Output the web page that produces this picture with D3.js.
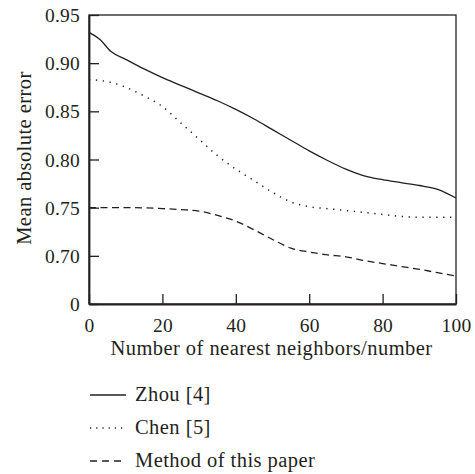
<!DOCTYPE html>
<html>
<head>
<meta charset="utf-8">
<script src="https://cdn.jsdelivr.net/npm/d3@7"></script>
<style>
	body { margin: 0; background: #fff; }
	text { font-family: "Liberation Serif", "Times New Roman", serif; fill: #231f20; }
</style>
</head>
<body>
<div id="chart"></div>
<script>
// number of nearest neighbors (x)
var neighbors = [0, 3, 6, 10, 15, 20, 25, 30, 35, 40, 45, 50, 55, 60, 65, 70, 75, 80, 85, 90, 95, 100];
// mean absolute error per method
var zhou   = [0.932, 0.9245, 0.912, 0.904, 0.894, 0.885, 0.877, 0.869, 0.861, 0.852, 0.842, 0.831, 0.820, 0.809, 0.799, 0.790, 0.783, 0.779, 0.776, 0.773, 0.769, 0.760];
var chen   = [0.883, 0.882, 0.880, 0.875, 0.866, 0.855, 0.838, 0.821, 0.804, 0.790, 0.778, 0.766, 0.756, 0.751, 0.749, 0.747, 0.745, 0.743, 0.741, 0.740, 0.740, 0.740];
var method = [0.750, 0.750, 0.750, 0.750, 0.7498, 0.749, 0.748, 0.7465, 0.742, 0.736, 0.727, 0.717, 0.708, 0.704, 0.701, 0.699, 0.695, 0.692, 0.689, 0.686, 0.6825, 0.679];

var xTicks = [0, 20, 40, 60, 80, 100];
// broken axis: bottom tick (0.65 position) is labelled "0"
var yTicks = [0.65, 0.70, 0.75, 0.80, 0.85, 0.90, 0.95];
var yTickLabels = ['0', '0.70', '0.75', '0.80', '0.85', '0.90', '0.95'];

var seriesNames = ['Zhou [4]', 'Chen [5]', 'Method of this paper'];
var seriesData = [zhou, chen, method];
var seriesDash = [null, '1.3,5.6', '7,4.5'];

var W = 475, H = 474;
var margin = {left: 89, right: 19, top: 15, bottom: 170};
var ink = '#231f20';

var svg = d3.select('#chart').append('svg').attr('width', W).attr('height', H);

var x = d3.scaleLinear().domain([0, 100]).range([margin.left, W - margin.right]);
var y = d3.scaleLinear().domain([0.65, 0.95]).range([H - margin.bottom, margin.top]);

// frame (top and right)
svg.append('rect')
	.attr('x', x(0)).attr('y', y(0.95))
	.attr('width', x(100) - x(0)).attr('height', y(0.65) - y(0.95))
	.attr('fill', 'none').attr('stroke', ink).attr('stroke-width', 1.3);

// x axis, ticks pointing inward
var xAxis = svg.append('g')
	.attr('transform', 'translate(0,' + y(0.65) + ')')
	.call(d3.axisBottom(x).tickValues(xTicks).tickSizeInner(-10).tickSizeOuter(0).tickPadding(9));

// y axis, ticks pointing inward
var yAxis = svg.append('g')
	.attr('transform', 'translate(' + x(0) + ',0)')
	.call(d3.axisLeft(y).tickValues(yTicks).tickSizeInner(-10).tickSizeOuter(0).tickPadding(9)
		.tickFormat(function(d, i) { return yTickLabels[i]; }));

[xAxis, yAxis].forEach(function(g) {
	g.select('.domain').attr('stroke', ink).attr('stroke-width', 1.8);
	g.selectAll('.tick line').attr('stroke', ink).attr('stroke-width', 1.3);
	g.selectAll('.tick text')
		.attr('fill', ink)
		.style('font-family', '"Liberation Serif", serif')
		.style('font-size', '19.5px')
		.style('letter-spacing', '0.2px');
});
xAxis.selectAll('.tick text').attr('dy', '0.95em');
yAxis.selectAll('.tick text').attr('dy', '0.34em');

// axis titles
svg.append('text')
	.attr('x', (x(0) + x(100)) / 2 - 1)
	.attr('y', 355)
	.attr('text-anchor', 'middle')
	.style('font-size', '20.5px')
	.style('letter-spacing', '0.45px')
	.text('Number of nearest neighbors/number');

svg.append('text')
	.attr('transform', 'translate(31,158) rotate(-90)')
	.attr('text-anchor', 'middle')
	.style('font-size', '20.5px')
	.style('letter-spacing', '0.45px')
	.text('Mean absolute error');

// lines
var line = d3.line()
	.x(function(d, i) { return x(neighbors[i]); })
	.y(function(d) { return y(d); })
	.curve(d3.curveMonotoneX);

svg.append('g').selectAll('path')
	.data(seriesData)
	.join('path')
		.attr('d', line)
		.attr('fill', 'none')
		.attr('stroke', ink)
		.attr('stroke-width', function(d, i) { return i === 1 ? 1.5 : 1.3; })
		.attr('stroke-dasharray', function(d, i) { return seriesDash[i]; });

// legend
var legend = svg.append('g').selectAll('g')
	.data(seriesNames)
	.join('g')
		.attr('transform', function(d, i) { return 'translate(90,' + (401 + i * 33) + ')'; });

legend.append('line')
	.attr('x1', 0).attr('x2', 36)
	.attr('y1', -6).attr('y2', -6)
	.attr('stroke', ink)
	.attr('stroke-width', 1.3)
	.attr('stroke-dasharray', function(d, i) { return i === 1 ? '1.2,5' : (i === 2 ? '7,5' : null); });

legend.append('text')
	.attr('x', 45)
	.attr('y', 0)
	.style('font-size', '20.5px')
	.style('letter-spacing', '0.45px')
	.text(function(d) { return d; });
</script>
</body>
</html>
